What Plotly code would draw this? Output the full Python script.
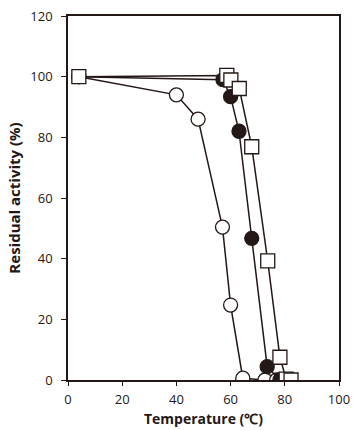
import plotly.graph_objects as go

# Open circles
temp_open = [4, 40, 48, 57, 60, 64.5, 72.7, 77]
act_open = [100, 94, 86, 50.4, 24.7, 0.6, 0, 0]
# Filled circles
temp_filled = [4, 57.2, 60, 63.1, 67.8, 73.5, 78.2]
act_filled = [100, 99, 93.4, 82, 46.7, 4.4, 0]
# Open squares
temp_sq = [4, 58.6, 60.1, 63.2, 67.8, 73.7, 78.2, 80.5, 82.3]
act_sq = [100, 100.4, 98.9, 96.1, 76.9, 39.3, 7.5, 0.3, 0]

x_ticks = [0, 20, 40, 60, 80, 100]
y_ticks = [0, 20, 40, 60, 80, 100, 120]

INK = "#231815"

fig = go.Figure()
fig.add_trace(go.Scatter(x=temp_open, y=act_open, mode="lines+markers",
    line=dict(color=INK, width=1.5),
    marker=dict(symbol="circle", size=14, color="white", line=dict(color=INK, width=1.3))))
fig.add_trace(go.Scatter(x=temp_filled, y=act_filled, mode="lines+markers",
    line=dict(color=INK, width=1.5),
    marker=dict(symbol="circle", size=14, color=INK, line=dict(color=INK, width=1.3))))
fig.add_trace(go.Scatter(x=temp_sq, y=act_sq, mode="lines+markers",
    line=dict(color=INK, width=1.5),
    marker=dict(symbol="square", size=14, color="white", line=dict(color=INK, width=1.3))))

fig.update_layout(
    width=361, height=430,
    margin=dict(l=68, r=22, t=16, b=50),
    paper_bgcolor="white", plot_bgcolor="white",
    showlegend=False,
    font=dict(family="Open Sans", size=13, color=INK),
)
fig.update_xaxes(range=[0, 100], tickvals=x_ticks, showline=True, mirror=True,
    linecolor=INK, linewidth=1.5, ticks="outside", ticklen=4, tickwidth=1,
    tickcolor=INK, showgrid=False, zeroline=False, ticklabelstandoff=3,
    title=dict(text="<b>Temperature (℃)</b>", font=dict(size=14), standoff=7),
    tickfont=dict(size=13), automargin=False)
fig.update_yaxes(range=[0, 120], tickvals=y_ticks, showline=True, mirror=True,
    linecolor=INK, linewidth=1.5, ticks="outside", ticklen=5, tickwidth=1,
    tickcolor=INK, showgrid=False, zeroline=False, ticklabelstandoff=6,
    title=dict(text="<b>Residual activity (%)</b>", font=dict(size=15), standoff=6),
    tickfont=dict(size=13), automargin=False)

fig.write_html("out.html", config={"displayModeBar": False},
               post_script="document.body.style.margin='0';")
